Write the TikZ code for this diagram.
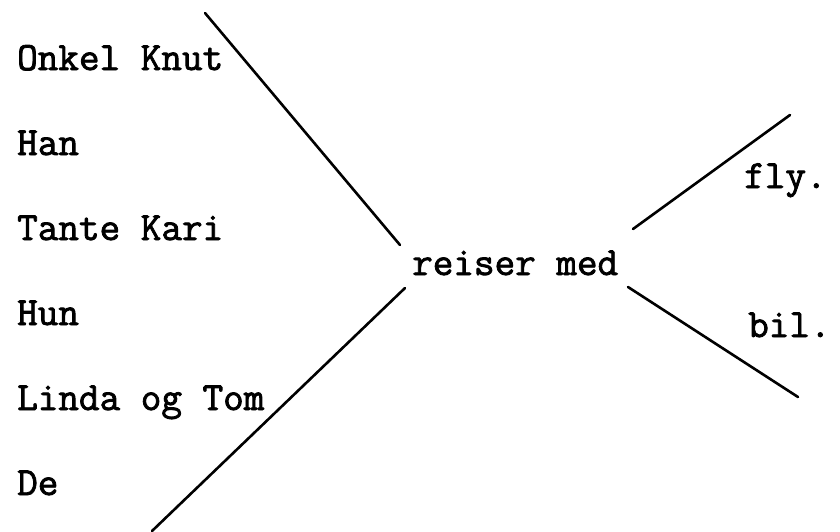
\documentclass[tikz,border=0pt]{standalone}
\usepackage{fontspec}
\newfontfamily\typer[FakeBold=2]{Latin Modern Mono}
\newcommand\typerfont{\typer\fontsize{40}{48}\selectfont}

\begin{document}
\begin{tikzpicture}[x=1pt, y=-1pt,
    every node/.style={font=\typerfont, inner sep=0pt, anchor=base west},
    stroke/.style={line width=2.6pt, line cap=round}]
  \useasboundingbox (0,0) rectangle (840,531);

  % subjects
  \foreach \txt [count=\i from 0] in {Onkel Knut, Han, Tante Kari, Hun, Linda og Tom, De} {
    \node (subj\i) at (17,70+85*\i) {\txt};
  }

  % verb and objects
  \node (verb) at (412,275) {reiser med};
  \node (fly) at (744,188) {fly.};
  \node (bil) at (748,337) {bil.};

  % line ends
  \coordinate (lt0) at (205,13);
  \coordinate (lt1) at (400,245);
  \coordinate (lb0) at (405,288);
  \coordinate (lb1) at (152,531);
  \coordinate (rt0) at (633,229);
  \coordinate (rt1) at (790,115);
  \coordinate (rb0) at (628,287);
  \coordinate (rb1) at (798,397);

  % lines
  \draw[stroke] (lt0) -- (lt1);
  \draw[stroke] (lb0) -- (lb1);
  \draw[stroke] (rt0) -- (rt1);
  \draw[stroke] (rb0) -- (rb1);
\end{tikzpicture}
\end{document}
